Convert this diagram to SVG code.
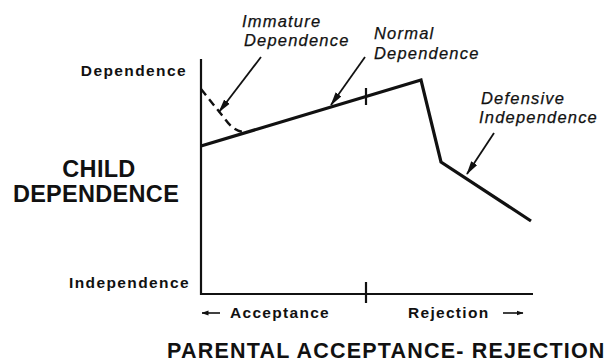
<svg xmlns="http://www.w3.org/2000/svg" width="613" height="362" viewBox="0 0 613 362">
<style>
.b{font-family:"Liberation Sans",Arial,sans-serif;font-weight:bold;fill:#111}
.i{font-family:"Liberation Sans",Arial,sans-serif;font-style:italic;font-size:16.5px;letter-spacing:1.2px;fill:#111;stroke:#111;stroke-width:0.25}
.ax{stroke:#111;stroke-width:2.2;fill:none}
.main{stroke:#111;stroke-width:3.2;fill:none;stroke-linejoin:miter}
.ptr{stroke:#111;stroke-width:1.8;fill:none}
.sa{stroke:#111;stroke-width:1.6;fill:none}
</style>
<defs>
<marker id="ah" viewBox="0 0 14 8" refX="13" refY="4" markerWidth="14" markerHeight="8" markerUnits="userSpaceOnUse" orient="auto">
<path d="M0,0.5 L14,4 L0,7.5 Z" fill="#111"/>
</marker>
<marker id="sh" viewBox="0 0 7 6" refX="6.5" refY="3" markerWidth="7" markerHeight="6" markerUnits="userSpaceOnUse" orient="auto">
<path d="M0,0.5 L7,3 L0,5.5 Z" fill="#111"/>
</marker>
</defs>
<rect width="613" height="362" fill="#fff"/>
<g id="axes">
<path class="ax" d="M201,59 V294 H533"/>
<path class="ax" d="M366,282 V303"/>
</g>
<g id="curves">
<path class="main" d="M201,146 L421,80 L441,162 L531,221"/>
<path class="ax" d="M366,88 V105"/>
<path d="M201,89 L225,119 Q235,133 247,132" stroke="#111" stroke-width="2.4" fill="none" stroke-dasharray="8,5"/>
</g>
<g id="connectors">
<path class="ptr" d="M261,57 L219,112" marker-end="url(#ah)"/>
<path class="ptr" d="M365,57 L331,105" marker-end="url(#ah)"/>
<path class="ptr" d="M494,133 L467,174" marker-end="url(#ah)"/>
</g>
<g id="label-immature">
<text class="i" x="242" y="27">Immature</text>
<text class="i" x="244" y="46">Dependence</text>
</g>
<g id="label-normal">
<text class="i" x="374" y="39">Normal</text>
<text class="i" x="374" y="59">Dependence</text>
</g>
<g id="label-defensive">
<text class="i" x="481" y="104">Defensive</text>
<text class="i" x="479" y="123">Independence</text>
</g>
<g id="y-labels">
<text class="b" x="187" y="76" font-size="15.5" letter-spacing="1.4" text-anchor="end">Dependence</text>
<text class="b" x="190" y="288" font-size="15.5" letter-spacing="1.4" text-anchor="end">Independence</text>
<text class="b" x="99" y="177" font-size="23.5" letter-spacing="0.3" text-anchor="middle">CHILD</text>
<text class="b" x="96" y="202" font-size="23.5" letter-spacing="0.3" text-anchor="middle">DEPENDENCE</text>
</g>
<g id="x-labels">
<path class="sa" d="M220,313 H202" marker-end="url(#sh)"/>
<text class="b" x="230" y="318" font-size="15.5" letter-spacing="1.3">Acceptance</text>
<text class="b" x="408" y="318" font-size="15.5" letter-spacing="1.3">Rejection</text>
<path class="sa" d="M503,313 H523" marker-end="url(#sh)"/>
<text class="b" x="167" y="358" font-size="21.5" letter-spacing="1.2">PARENTAL ACCEPTANCE- REJECTION</text>
</g>
</svg>
